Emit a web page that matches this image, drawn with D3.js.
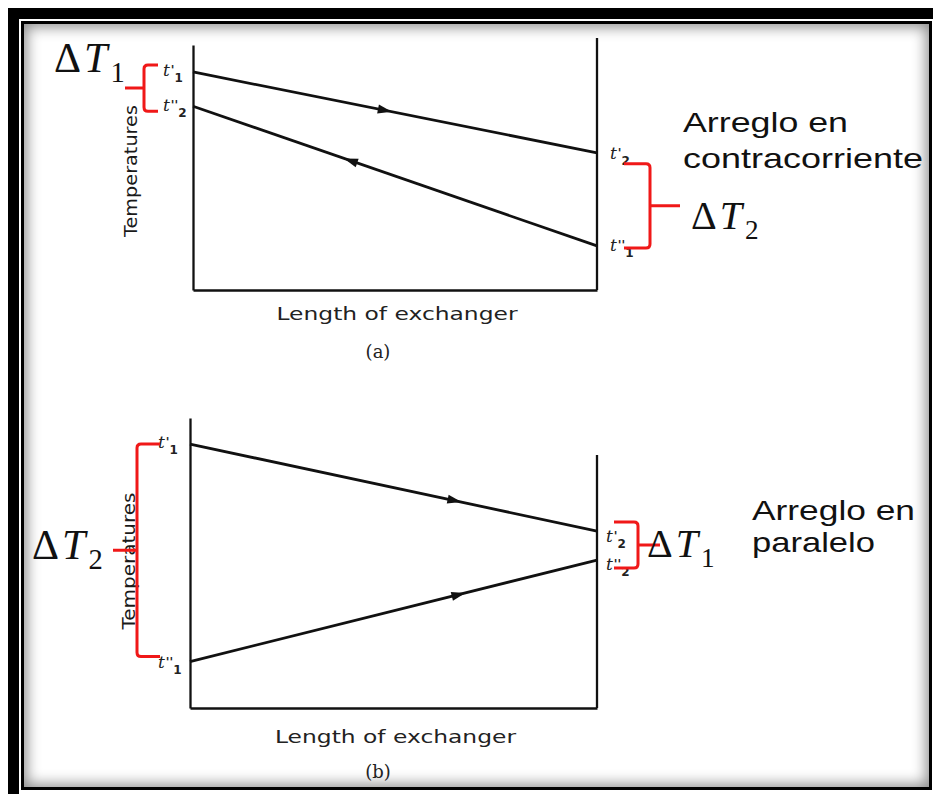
<!DOCTYPE html>
<html>
<head>
<meta charset="utf-8">
<script src="https://d3js.org/d3.v7.min.js"></script>
<style>
html, body { margin: 0; padding: 0; background: #fff; width: 933px; height: 794px; overflow: hidden; }
#outer { position: absolute; left: 8px; top: 8px; width: 1000px; height: 1000px; background: #000; }
#gap { position: absolute; left: 19px; top: 19px; width: 915px; height: 775px; background: #fff; }
#inner { position: absolute; left: 21px; top: 21px; width: 911px; height: 769px; box-sizing: border-box;
         border: 3px solid #000; background: #fff; box-shadow: inset 0 0 14px 3px rgba(0,0,0,0.45); }
#chart { position: absolute; left: 0; top: 0; }
</style>
</head>
<body>
<div id="outer"></div><div id="gap"></div><div id="inner"></div>
<div id="chart"></div>
<script>
// ---- data ----
var panelNames = ["(a)", "(b)"];
var xLabel = "Length of exchanger";
var yLabel = "Temperatures";
var lengthDomain = [0, 1];
var tempDomain = [0, 100];

// temperature at length 0 and at length 1
var counterHot = [89, 56];
var counterCold = [75, 18];
var parallelHot = [91, 61];
var parallelCold = [16, 51];

// [position along length, flow direction] for hot and cold lines
var counterArrows = [[0.475, 1], [0.39, -1]];
var parallelArrows = [[0.65, 1], [0.66, 1]];

// end labels: [letter, primes, subscript] for hot, cold
var counterLeftLabels = [["t", "'", "1"], ["t", "''", "2"]];
var counterRightLabels = [["t", "'", "2"], ["t", "''", "1"]];
var parallelLeftLabels = [["t", "'", "1"], ["t", "''", "1"]];
var parallelRightLabels = [["t", "'", "2"], ["t", "''", "2"]];

var counterTitle = ["Arreglo en", "contracorriente"];
var parallelTitle = ["Arreglo en", "paralelo"];
var counterDeltas = ["1", "2"];   // left bracket, right bracket
var parallelDeltas = ["2", "1"];

var svg = d3.select("#chart").append("svg")
    .attr("width", 933)
    .attr("height", 794);

/*
 * ExchangerPanel - draws one temperature/length diagram
 */
ExchangerPanel = function(_svg, _layout, _hot, _cold, _arrows, _leftLabels, _rightLabels, _title, _deltas, _name) {
    this.svg = _svg;
    this.layout = _layout;
    this.hot = _hot;
    this.cold = _cold;
    this.arrows = _arrows;
    this.leftLabels = _leftLabels;
    this.rightLabels = _rightLabels;
    this.title = _title;
    this.deltas = _deltas;
    this.name = _name;

    this.initVis();
};

ExchangerPanel.prototype.initVis = function() {
    var vis = this;
    var L = vis.layout;

    vis.g = vis.svg.append("g");

    vis.x = d3.scaleLinear().domain(lengthDomain).range([L.left, L.right]);
    vis.y = d3.scaleLinear().domain(tempDomain).range([L.bottom, L.top]);

    // axes without ticks
    vis.g.append("g")
        .attr("transform", "translate(" + L.left + ",0)")
        .call(d3.axisLeft(vis.y).tickValues([]).tickSizeOuter(0))
        .select(".domain").attr("stroke", "#111").attr("stroke-width", 2.3);

    vis.g.append("g")
        .attr("transform", "translate(0," + L.bottom + ")")
        .call(d3.axisBottom(vis.x).tickValues([]).tickSizeOuter(0))
        .select(".domain").attr("stroke", "#111").attr("stroke-width", 2.6);

    vis.g.append("line")
        .attr("x1", vis.x(1)).attr("x2", vis.x(1))
        .attr("y1", L.rightTop).attr("y2", vis.y(0))
        .attr("stroke", "#111").attr("stroke-width", 2.3);

    vis.g.append("text")
        .attr("x", (L.left + L.right) / 2 + 2)
        .attr("y", L.bottom + L.xLabelDy)
        .attr("text-anchor", "middle")
        .attr("font-family", "DejaVu Sans")
        .attr("font-size", 18)
        .attr("fill", "#222")
        .attr("textLength", 241)
        .attr("lengthAdjust", "spacingAndGlyphs")
        .text(xLabel);

    vis.g.append("text")
        .attr("x", 378)
        .attr("y", L.bottom + L.nameDy)
        .attr("text-anchor", "middle")
        .attr("font-family", "DejaVu Serif")
        .attr("font-size", 18)
        .attr("fill", "#222")
        .text(vis.name);

    vis.g.append("text")
        .attr("transform", "translate(" + L.yLabelX + "," + L.yLabelY + ") rotate(-90)")
        .attr("text-anchor", "middle")
        .attr("dominant-baseline", "central")
        .attr("font-family", "DejaVu Sans")
        .attr("font-size", 18)
        .attr("fill", "#1a1a1a")
        .attr("textLength", L.yLabelLen)
        .attr("lengthAdjust", "spacingAndGlyphs")
        .text(yLabel);

    vis.updateVis();
};

ExchangerPanel.prototype.updateVis = function() {
    var vis = this;
    var L = vis.layout;

    var line = d3.line()
        .x(function(d) { return vis.x(d[0]); })
        .y(function(d) { return vis.y(d[1]); });

    var series = [vis.hot, vis.cold];

    vis.g.selectAll(".flow")
        .data(series)
        .enter()
        .append("path")
        .attr("class", "flow")
        .attr("d", function(d) { return line([[0, d[0]], [1, d[1]]]); })
        .attr("fill", "none")
        .attr("stroke", "#111")
        .attr("stroke-width", 2.8);

    // flow arrows
    vis.g.selectAll(".arrow")
        .data(vis.arrows)
        .enter()
        .append("path")
        .attr("class", "arrow")
        .attr("d", "M7,0 L-7,-4.5 L-7,4.5 Z")
        .attr("fill", "#111")
        .attr("transform", function(d, i) {
            var s = series[i];
            var px = vis.x(d[0]);
            var py = vis.y(s[0] + (s[1] - s[0]) * d[0]);
            var ang = Math.atan2(vis.y(s[1]) - vis.y(s[0]), vis.x(1) - vis.x(0)) * 180 / Math.PI;
            if (d[1] < 0) ang += 180;
            return "translate(" + px + "," + py + ") rotate(" + ang + ")";
        });

    // end labels, one text each: letter, primes, subscript
    function drawLabel(lab, x, y) {
        var t = vis.g.append("text")
            .attr("x", x).attr("y", y + 5)
            .attr("fill", "#222");
        t.append("tspan")
            .attr("font-family", "DejaVu Serif").attr("font-style", "italic")
            .attr("font-size", 17).text(lab[0]);
        t.append("tspan")
            .attr("font-family", "DejaVu Sans").attr("font-weight", "bold")
            .attr("font-size", 12).attr("dx", 1).attr("dy", -2).text(lab[1]);
        t.append("tspan")
            .attr("font-family", "DejaVu Sans").attr("font-weight", "bold")
            .attr("font-size", 12).attr("dy", 8).text(lab[2]);
    }
    drawLabel(vis.leftLabels[0], L.left + L.leftLabelDx, vis.y(vis.hot[0]) + L.leftLabelDy[0]);
    drawLabel(vis.leftLabels[1], L.left + L.leftLabelDx, vis.y(vis.cold[0]) + L.leftLabelDy[1]);
    drawLabel(vis.rightLabels[0], L.right + L.rightLabelDx, vis.y(vis.hot[1]) + L.rightLabelDy[0]);
    drawLabel(vis.rightLabels[1], L.right + L.rightLabelDx, vis.y(vis.cold[1]) + L.rightLabelDy[1]);

    // red braces
    function brace(vx, y0, y1, armX, tipX, tipY) {
        var s = armX > vx ? 1 : -1;
        var r = 4;
        var p = "M" + armX + "," + y0 + " H" + (vx + s * r) +
            " Q" + vx + "," + y0 + " " + vx + "," + (y0 + r) +
            " V" + (y1 - r) +
            " Q" + vx + "," + y1 + " " + (vx + s * r) + "," + y1 +
            " H" + armX +
            " M" + vx + "," + tipY + " H" + tipX;
        vis.g.append("path")
            .attr("d", p)
            .attr("fill", "none")
            .attr("stroke", "#f01818")
            .attr("stroke-width", 3);
    }
    var lb = L.leftBrace, rb = L.rightBrace;
    var ly0 = vis.y(vis.hot[0]) + lb.dy0, ly1 = vis.y(vis.cold[0]) + lb.dy1;
    brace(L.left + lb.vx, ly0, ly1, L.left + lb.arm, L.left + lb.tip, (ly0 + ly1) / 2);
    var ry0 = vis.y(vis.hot[1]) + rb.dy0, ry1 = vis.y(vis.cold[1]) + rb.dy1;
    brace(L.right + rb.vx, ry0, ry1, L.right + rb.arm, L.right + rb.tip, (ry0 + ry1) / 2);

    // delta T labels
    function delta(pos, sub, size) {
        var t = vis.g.append("text")
            .attr("x", pos[0]).attr("y", pos[1])
            .attr("font-family", "Liberation Serif")
            .attr("font-size", size)
            .attr("fill", "#111");
        t.append("tspan").text("Δ");
        t.append("tspan").attr("font-style", "italic").attr("dx", 3).text("T");
        t.append("tspan").attr("font-size", size * 0.68).attr("dx", 3).attr("dy", size * 0.24).text(sub);
    }
    delta(L.leftDelta, vis.deltas[0], L.deltaSize[0]);
    delta(L.rightDelta, vis.deltas[1], L.deltaSize[1]);

    // arrangement title
    vis.g.selectAll(".title")
        .data(vis.title)
        .enter()
        .append("text")
        .attr("class", "title")
        .attr("x", L.titleX)
        .attr("y", function(d, i) { return L.titleY[i]; })
        .attr("font-family", "Liberation Sans")
        .attr("font-size", 28)
        .attr("fill", "#111")
        .attr("textLength", function(d, i) { return L.titleLen[i]; })
        .attr("lengthAdjust", "spacingAndGlyphs")
        .text(function(d) { return d; });
};

var layoutA = {
    left: 193, right: 597, top: 45, rightTop: 38, bottom: 290,
    xLabelDy: 30, nameDy: 68,
    yLabelX: 130, yLabelY: 171, yLabelLen: 132,
    leftLabelDx: -30, leftLabelDy: [-1, 0],
    rightLabelDx: 13, rightLabelDy: [1, 0],
    leftBrace: { vx: -49, arm: -35, tip: -68, dy0: -7, dy1: 5 },
    rightBrace: { vx: 53, arm: 27, tip: 83, dy0: 11, dy1: 2 },
    leftDelta: [54, 72], rightDelta: [691, 229], deltaSize: [42, 40],
    titleX: 683, titleY: [132, 168], titleLen: [165, 240]
};

var layoutB = {
    left: 190, right: 597, top: 418, rightTop: 455, bottom: 708,
    xLabelDy: 35, nameDy: 70,
    yLabelX: 128, yLabelY: 561, yLabelLen: 137,
    leftLabelDx: -32, leftLabelDy: [-1, 1],
    rightLabelDx: 9, rightLabelDy: [6, 5],
    leftBrace: { vx: -53, arm: -30, tip: -77, dy0: 0, dy1: -5 },
    rightBrace: { vx: 41, arm: 17, tip: 63, dy0: -9, dy1: 8 },
    leftDelta: [32, 559], rightDelta: [647, 557], deltaSize: [42, 40],
    titleX: 752, titleY: [520, 552], titleLen: [163, 123]
};

new ExchangerPanel(svg, layoutA, counterHot, counterCold, counterArrows,
    counterLeftLabels, counterRightLabels, counterTitle, counterDeltas, panelNames[0]);
new ExchangerPanel(svg, layoutB, parallelHot, parallelCold, parallelArrows,
    parallelLeftLabels, parallelRightLabels, parallelTitle, parallelDeltas, panelNames[1]);
</script>
</body>
</html>
